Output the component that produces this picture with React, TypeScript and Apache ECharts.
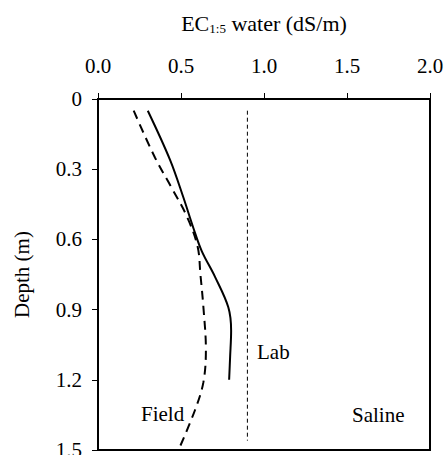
import React, { useEffect, useRef } from "react";
import * as echarts from "echarts";

const xTicks = [0, 0.5, 1.0, 1.5, 2.0];
const yTicks = [0, 0.3, 0.6, 0.9, 1.2, 1.5];

const labDepth = [0.05, 0.26, 0.42, 0.55, 0.65, 0.76, 0.89, 0.99, 1.1, 1.2];
const labEC = [0.3, 0.434, 0.514, 0.574, 0.625, 0.705, 0.785, 0.802, 0.796, 0.79];

const fieldDepth = [0.05, 0.25, 0.38, 0.5, 0.63, 0.75, 0.89, 1.07, 1.21, 1.33, 1.5];
const fieldEC = [0.215, 0.343, 0.444, 0.534, 0.6, 0.617, 0.635, 0.65, 0.635, 0.584, 0.485];

const salineEC = [0.9, 0.9];
const salineDepth = [0.05, 1.46];

const FONT = "Liberation Serif";
const FS = 21;

export default function App() {
  const ref = useRef<HTMLDivElement>(null);
  useEffect(() => {
    if (!ref.current) return;
    const chart = echarts.init(ref.current, undefined, { renderer: "svg" });
    const pairs = (xs: number[], ys: number[]) => xs.map((x, i) => [x, ys[i]]);
    chart.setOption({
      animation: false,
      textStyle: { fontFamily: FONT, color: "#000" },
      grid: {
        left: 98,
        top: 99,
        right: 15,
        bottom: 5,
        containLabel: false,
        outerBoundsMode: "none",
        show: true,
        borderColor: "#000",
        borderWidth: 2,
        backgroundColor: "transparent",
      },
      xAxis: {
        type: "value",
        position: "top",
        min: xTicks[0],
        max: xTicks[xTicks.length - 1],
        interval: 0.5,
        splitLine: { show: false },
        axisLine: { show: true, lineStyle: { color: "#000", width: 2 } },
        axisTick: { show: true, inside: false, length: 6, lineStyle: { color: "#000", width: 1 } },
        axisLabel: {
          fontFamily: FONT,
          fontSize: FS,
          fontWeight: "normal",
          color: "#000",
          margin: 23,
          formatter: (v: number) => v.toFixed(1),
        },
        name: "{a|EC}{s|1:5}{a| water (dS/m)}",
        nameLocation: "middle",
        nameGap: 64,
        nameTextStyle: {
          fontFamily: FONT,
          fontWeight: "normal",
          rich: {
            a: { fontFamily: FONT, fontSize: 22, fontWeight: "normal", color: "#000" },
            s: { fontFamily: FONT, fontSize: 13, fontWeight: "normal", color: "#000", verticalAlign: "bottom", padding: [10, 0, 0, 0] },
          },
        },
      },
      yAxis: {
        type: "value",
        inverse: true,
        min: yTicks[0],
        max: yTicks[yTicks.length - 1],
        interval: 0.3,
        splitLine: { show: false },
        axisLine: { show: true, lineStyle: { color: "#000", width: 2 } },
        axisTick: { show: true, inside: false, length: 6, lineStyle: { color: "#000", width: 1 } },
        axisLabel: {
          fontFamily: FONT,
          fontSize: FS,
          fontWeight: "normal",
          color: "#000",
          margin: 16,
          formatter: (v: number) => (v === 0 ? "0" : v.toFixed(1)),
        },
        name: "Depth (m)",
        nameLocation: "middle",
        nameGap: 66,
        nameRotate: 90,
        nameTextStyle: { fontFamily: FONT, fontSize: FS, fontWeight: "normal", color: "#000" },
      },
      series: [
        {
          type: "line",
          name: "Lab",
          data: pairs(labEC, labDepth),
          smooth: 0.35,
          showSymbol: false,
          lineStyle: { color: "#000", width: 2 },
        },
        {
          type: "line",
          name: "Field",
          data: pairs(fieldEC, fieldDepth),
          smooth: 0.35,
          showSymbol: false,
          lineStyle: { color: "#000", width: 2, type: [9, 6] },
        },
        {
          type: "line",
          name: "Saline",
          data: pairs(salineEC, salineDepth),
          showSymbol: false,
          lineStyle: { color: "#000", width: 1, type: [4, 3] },
        },
      ],
      graphic: [
        { type: "text", left: 257, top: 341, style: { text: "Lab", fontFamily: FONT, fontSize: FS, fontWeight: "normal", fill: "#000" } },
        { type: "text", left: 141, top: 403, style: { text: "Field", fontFamily: FONT, fontSize: FS, fontWeight: "normal", fill: "#000" } },
        { type: "text", left: 352, top: 404, style: { text: "Saline", fontFamily: FONT, fontSize: FS, fontWeight: "normal", fill: "#000" } },
      ],
    });
    return () => chart.dispose();
  }, []);
  return <div ref={ref} style={{ width: 445, height: 455, position: "absolute", left: 0, top: 0 }} />;
}
